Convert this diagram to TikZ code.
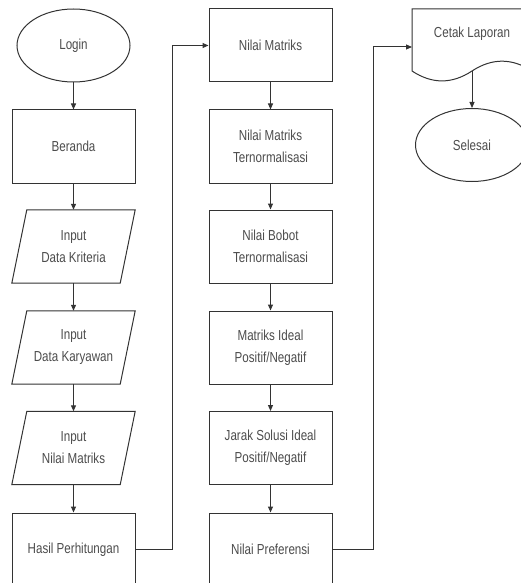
\documentclass[tikz,border=0pt]{standalone}
\usepackage{fontspec}
\setmainfont{Liberation Sans}[FakeStretch=0.8]
\usetikzlibrary{arrows.meta,shapes.geometric}
\begin{document}
\begin{tikzpicture}[x=1pt,y=-1pt,
  every node/.style={font=\fontsize{14.5}{22}\selectfont, text=black!70, align=center},
  ln/.style={draw=black!80, line width=1pt},
  proc/.style={ln, rectangle, minimum width=123pt, minimum height=73pt, inner sep=0pt},
  term/.style={ln, ellipse, minimum width=113pt, minimum height=73pt, inner sep=0pt},
  io/.style={rectangle, minimum width=123pt, minimum height=73pt, inner sep=0pt},
  flow/.style={ln, -{Triangle[length=6pt,width=5pt]}}]
\useasboundingbox (0,0) rectangle (521,583);
\clip (0,0) rectangle (521,583);
% column 1
\node[term] (login) at (73.5,45.5) {Login};
\node[proc] (beranda) at (73.5,146.5) {Beranda};
\node[io] (kriteria) at (73.5,246.5) {Input\\Data Kriteria};
\node[io] (karyawan) at (73.5,347.5) {Input\\Data Karyawan};
\node[io] (nilai) at (73.5,448) {Input\\Nilai Matriks};
\foreach \n in {kriteria,karyawan,nilai}
  \draw[ln] ([xshift=15pt]\n.north west) -- (\n.north east)
    -- ([xshift=-15pt]\n.south east) -- (\n.south west) -- cycle;
\node[proc] (hasil) at (73.5,549.5) {Hasil Perhitungan};
% column 2
\node[proc] (nm) at (270.5,45.5) {Nilai Matriks};
\node[proc] (nmt) at (270.5,146.5) {Nilai Matriks\\Ternormalisasi};
\node[proc] (nbt) at (270.5,246.5) {Nilai Bobot\\Ternormalisasi};
\node[proc] (mip) at (270.5,347.5) {Matriks Ideal\\Positif/Negatif};
\node[proc] (jsi) at (270.5,448) {Jarak Solusi Ideal\\Positif/Negatif};
\node[proc] (pref) at (270.5,549.5) {Nilai Preferensi};
% column 3
\draw[ln] (412,9) -- (532,9) -- (532,71)
  .. controls (512,57.9) and (492,57.9) .. (472,71)
  .. controls (452,84.2) and (432,84.2) .. (412,71) -- cycle;
\node (cetak) at (472,34) {Cetak Laporan};
\coordinate (docin) at (412,47);
\coordinate (docbot) at (472,71);
\node[term] (selesai) at (472,145) {Selesai};
% connectors
\draw[flow] (login) -- (beranda);
\draw[flow] (beranda) -- (kriteria.north);
\draw[flow] (kriteria.south) -- (karyawan.north);
\draw[flow] (karyawan.south) -- (nilai.north);
\draw[flow] (nilai.south) -- (hasil);
\draw[flow] (hasil.east) -- ++(37,0) |- (nm.west);
\draw[flow] (nm) -- (nmt);
\draw[flow] (nmt) -- (nbt);
\draw[flow] (nbt) -- (mip);
\draw[flow] (mip) -- (jsi);
\draw[flow] (jsi) -- (pref);
\draw[flow] (pref.east) -- ++(41,0) |- (docin);
\draw[flow] (docbot) -- (selesai);
\end{tikzpicture}
\end{document}
